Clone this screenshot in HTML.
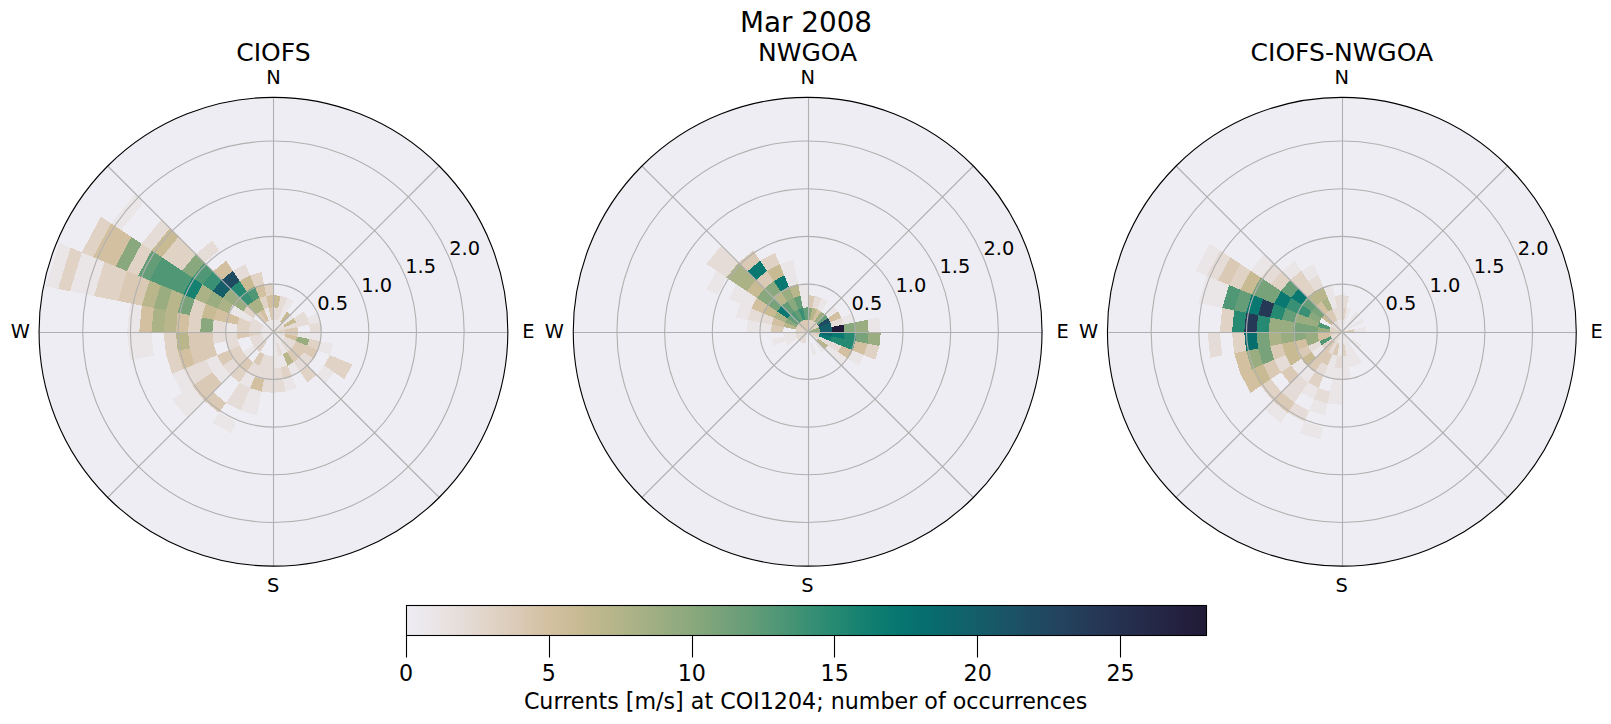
<!DOCTYPE html><html><head><meta charset="utf-8"><title>Mar 2008</title>
<style>html,body{margin:0;padding:0;background:#fff}svg{display:block}text{font-family:"DejaVu Sans","Liberation Sans",sans-serif;fill:#000}</style></head><body>
<svg width="1611" height="724" viewBox="0 0 1611 724">
<rect width="1611" height="724" fill="#fff"/>
<defs><linearGradient id="cb" x1="0" x2="1" y1="0" y2="0">
<stop offset="0.000%" stop-color="#eeedf3"/>
<stop offset="3.571%" stop-color="#eae5e7"/>
<stop offset="7.143%" stop-color="#e5dcd7"/>
<stop offset="10.714%" stop-color="#e0d3c6"/>
<stop offset="14.286%" stop-color="#dac9b4"/>
<stop offset="17.857%" stop-color="#d3c0a0"/>
<stop offset="21.429%" stop-color="#c8bb94"/>
<stop offset="25.000%" stop-color="#bab68c"/>
<stop offset="28.571%" stop-color="#aab286"/>
<stop offset="32.143%" stop-color="#9aad81"/>
<stop offset="35.714%" stop-color="#8aa87d"/>
<stop offset="39.286%" stop-color="#78a27a"/>
<stop offset="42.857%" stop-color="#659d78"/>
<stop offset="46.429%" stop-color="#509776"/>
<stop offset="50.000%" stop-color="#3a9074"/>
<stop offset="53.571%" stop-color="#268972"/>
<stop offset="57.143%" stop-color="#148171"/>
<stop offset="60.714%" stop-color="#087870"/>
<stop offset="64.286%" stop-color="#066f6e"/>
<stop offset="67.857%" stop-color="#0c666c"/>
<stop offset="71.429%" stop-color="#145d69"/>
<stop offset="75.000%" stop-color="#1a5466"/>
<stop offset="78.571%" stop-color="#1f4b62"/>
<stop offset="82.143%" stop-color="#23425d"/>
<stop offset="85.714%" stop-color="#253957"/>
<stop offset="89.286%" stop-color="#263150"/>
<stop offset="92.857%" stop-color="#252948"/>
<stop offset="96.429%" stop-color="#23213f"/>
<stop offset="100.000%" stop-color="#211a36"/>
</linearGradient></defs>
<text x="806" y="32.3" font-size="27.8" text-anchor="middle">Mar 2008</text>
<g>
<text x="273.45" y="61.2" font-size="25" text-anchor="middle">CIOFS</text>
<circle cx="273.45" cy="331.75" r="234.4" fill="#eeedf3"/>
<g shape-rendering="crispEdges">
<polygon points="273.4,331.8 273.4,331.8 275.8,319.8 273.4,319.6" fill="#eae5e7"/>
<polygon points="273.4,319.6 275.8,319.8 278.2,307.8 273.4,307.4" fill="#e5dcd7"/>
<polygon points="273.4,307.4 278.2,307.8 280.6,295.9 273.4,295.1" fill="#c8bb94"/>
<polygon points="273.4,331.8 273.4,331.8 278.1,320.5 275.8,319.8" fill="#eae5e7"/>
<polygon points="275.8,319.8 278.1,320.5 282.8,309.2 278.2,307.8" fill="#e5dcd7"/>
<polygon points="278.2,307.8 282.8,309.2 287.5,297.9 280.6,295.9" fill="#e5dcd7"/>
<polygon points="273.4,331.8 273.4,331.8 280.2,321.6 278.1,320.5" fill="#eae5e7"/>
<polygon points="278.1,320.5 280.2,321.6 287.0,311.5 282.8,309.2" fill="#eae5e7"/>
<polygon points="282.8,309.2 287.0,311.5 293.8,301.3 287.5,297.9" fill="#eae5e7"/>
<polygon points="273.4,331.8 273.4,331.8 282.1,323.1 280.2,321.6" fill="#eae5e7"/>
<polygon points="280.2,321.6 282.1,323.1 290.7,314.5 287.0,311.5" fill="#c8bb94"/>
<polygon points="273.4,331.8 273.4,331.8 283.6,325.0 282.1,323.1" fill="#eae5e7"/>
<polygon points="282.1,323.1 283.6,325.0 293.7,318.2 290.7,314.5" fill="#eae5e7"/>
<polygon points="273.4,331.8 273.4,331.8 284.7,327.1 283.6,325.0" fill="#e5dcd7"/>
<polygon points="283.6,325.0 284.7,327.1 296.0,322.4 293.7,318.2" fill="#c8bb94"/>
<polygon points="293.7,318.2 296.0,322.4 307.3,317.7 303.9,311.4" fill="#e5dcd7"/>
<polygon points="273.4,331.8 273.4,331.8 285.4,329.4 284.7,327.1" fill="#e5dcd7"/>
<polygon points="284.7,327.1 285.4,329.4 297.4,327.0 296.0,322.4" fill="#e5dcd7"/>
<polygon points="296.0,322.4 297.4,327.0 309.3,324.6 307.3,317.7" fill="#e5dcd7"/>
<polygon points="307.3,317.7 309.3,324.6 321.3,322.2 318.5,313.1" fill="#eae5e7"/>
<polygon points="273.4,331.8 273.4,331.8 285.6,331.8 285.4,329.4" fill="#e0d3c6"/>
<polygon points="285.4,329.4 285.6,331.8 297.8,331.8 297.4,327.0" fill="#dac9b4"/>
<polygon points="309.3,324.6 310.0,331.8 322.2,331.8 321.3,322.2" fill="#e5dcd7"/>
<polygon points="273.4,331.8 273.4,331.8 285.4,334.1 285.6,331.8" fill="#e5dcd7"/>
<polygon points="285.6,331.8 285.4,334.1 297.4,336.5 297.8,331.8" fill="#dac9b4"/>
<polygon points="297.8,331.8 297.4,336.5 309.3,338.9 310.0,331.8" fill="#eae5e7"/>
<polygon points="310.0,331.8 309.3,338.9 321.3,341.3 322.2,331.8" fill="#eae5e7"/>
<polygon points="273.4,331.8 273.4,331.8 284.7,336.4 285.4,334.1" fill="#e5dcd7"/>
<polygon points="285.4,334.1 284.7,336.4 296.0,341.1 297.4,336.5" fill="#d3c0a0"/>
<polygon points="297.4,336.5 296.0,341.1 307.3,345.8 309.3,338.9" fill="#9aad81"/>
<polygon points="309.3,338.9 307.3,345.8 318.5,350.4 321.3,341.3" fill="#e0d3c6"/>
<polygon points="321.3,341.3 318.5,350.4 329.8,355.1 333.3,343.7" fill="#eae5e7"/>
<polygon points="273.4,331.8 273.4,331.8 283.6,338.5 284.7,336.4" fill="#eae5e7"/>
<polygon points="284.7,336.4 283.6,338.5 293.7,345.3 296.0,341.1" fill="#e5dcd7"/>
<polygon points="296.0,341.1 293.7,345.3 303.9,352.1 307.3,345.8" fill="#dac9b4"/>
<polygon points="307.3,345.8 303.9,352.1 314.0,358.9 318.5,350.4" fill="#dac9b4"/>
<polygon points="329.8,355.1 324.2,365.6 334.3,372.4 341.1,359.8" fill="#e0d3c6"/>
<polygon points="341.1,359.8 334.3,372.4 344.5,379.2 352.3,364.4" fill="#e0d3c6"/>
<polygon points="273.4,331.8 273.4,331.8 282.1,340.4 283.6,338.5" fill="#eae5e7"/>
<polygon points="283.6,338.5 282.1,340.4 290.7,349.0 293.7,345.3" fill="#e5dcd7"/>
<polygon points="293.7,345.3 290.7,349.0 299.3,357.6 303.9,352.1" fill="#dac9b4"/>
<polygon points="303.9,352.1 299.3,357.6 308.0,366.3 314.0,358.9" fill="#e5dcd7"/>
<polygon points="324.2,365.6 316.6,374.9 325.2,383.5 334.3,372.4" fill="#eae5e7"/>
<polygon points="273.4,331.8 273.4,331.8 280.2,341.9 282.1,340.4" fill="#eae5e7"/>
<polygon points="282.1,340.4 280.2,341.9 287.0,352.0 290.7,349.0" fill="#e5dcd7"/>
<polygon points="290.7,349.0 287.0,352.0 293.8,362.2 299.3,357.6" fill="#dac9b4"/>
<polygon points="299.3,357.6 293.8,362.2 300.6,372.3 308.0,366.3" fill="#e5dcd7"/>
<polygon points="308.0,366.3 300.6,372.3 307.3,382.5 316.6,374.9" fill="#e0d3c6"/>
<polygon points="273.4,331.8 273.4,331.8 278.1,343.0 280.2,341.9" fill="#eae5e7"/>
<polygon points="280.2,341.9 278.1,343.0 282.8,354.3 287.0,352.0" fill="#eae5e7"/>
<polygon points="287.0,352.0 282.8,354.3 287.5,365.6 293.8,362.2" fill="#bab68c"/>
<polygon points="293.8,362.2 287.5,365.6 292.1,376.8 300.6,372.3" fill="#eae5e7"/>
<polygon points="273.4,331.8 273.4,331.8 275.8,343.7 278.1,343.0" fill="#eae5e7"/>
<polygon points="278.1,343.0 275.8,343.7 278.2,355.7 282.8,354.3" fill="#e5dcd7"/>
<polygon points="282.8,354.3 278.2,355.7 280.6,367.6 287.5,365.6" fill="#eae5e7"/>
<polygon points="287.5,365.6 280.6,367.6 283.0,379.6 292.1,376.8" fill="#e0d3c6"/>
<polygon points="292.1,376.8 283.0,379.6 285.4,391.6 296.8,388.1" fill="#eae5e7"/>
<polygon points="273.4,331.8 273.4,331.8 273.4,343.9 275.8,343.7" fill="#eae5e7"/>
<polygon points="275.8,343.7 273.4,343.9 273.4,356.1 278.2,355.7" fill="#eae5e7"/>
<polygon points="278.2,355.7 273.4,356.1 273.4,368.4 280.6,367.6" fill="#eae5e7"/>
<polygon points="280.6,367.6 273.4,368.4 273.4,380.6 283.0,379.6" fill="#e5dcd7"/>
<polygon points="283.0,379.6 273.4,380.6 273.4,392.8 285.4,391.6" fill="#e5dcd7"/>
<polygon points="273.4,356.1 268.7,355.7 266.3,367.6 273.4,368.4" fill="#e5dcd7"/>
<polygon points="273.4,368.4 266.3,367.6 263.9,379.6 273.4,380.6" fill="#e5dcd7"/>
<polygon points="273.4,380.6 263.9,379.6 261.5,391.6 273.4,392.8" fill="#e5dcd7"/>
<polygon points="268.7,355.7 264.1,354.3 259.4,365.6 266.3,367.6" fill="#e5dcd7"/>
<polygon points="266.3,367.6 259.4,365.6 254.8,376.8 263.9,379.6" fill="#e5dcd7"/>
<polygon points="263.9,379.6 254.8,376.8 250.1,388.1 261.5,391.6" fill="#d3c0a0"/>
<polygon points="261.5,391.6 250.1,388.1 245.4,399.4 259.2,403.5" fill="#eae5e7"/>
<polygon points="259.2,403.5 245.4,399.4 240.8,410.6 256.8,415.5" fill="#eae5e7"/>
<polygon points="264.1,354.3 259.9,352.0 253.1,362.2 259.4,365.6" fill="#dac9b4"/>
<polygon points="259.4,365.6 253.1,362.2 246.3,372.3 254.8,376.8" fill="#e5dcd7"/>
<polygon points="254.8,376.8 246.3,372.3 239.6,382.5 250.1,388.1" fill="#eae5e7"/>
<polygon points="250.1,388.1 239.6,382.5 232.8,392.6 245.4,399.4" fill="#e5dcd7"/>
<polygon points="245.4,399.4 232.8,392.6 226.0,402.8 240.8,410.6" fill="#e5dcd7"/>
<polygon points="236.1,421.9 219.2,412.9 212.4,423.0 231.4,433.2" fill="#eae5e7"/>
<polygon points="273.4,331.8 273.4,331.8 264.8,340.4 266.7,341.9" fill="#eae5e7"/>
<polygon points="266.7,341.9 264.8,340.4 256.2,349.0 259.9,352.0" fill="#e0d3c6"/>
<polygon points="253.1,362.2 247.6,357.6 238.9,366.3 246.3,372.3" fill="#dac9b4"/>
<polygon points="246.3,372.3 238.9,366.3 230.3,374.9 239.6,382.5" fill="#e0d3c6"/>
<polygon points="226.0,402.8 213.1,392.1 204.4,400.8 219.2,412.9" fill="#dac9b4"/>
<polygon points="273.4,331.8 273.4,331.8 263.3,338.5 264.8,340.4" fill="#eae5e7"/>
<polygon points="264.8,340.4 263.3,338.5 253.2,345.3 256.2,349.0" fill="#e5dcd7"/>
<polygon points="256.2,349.0 253.2,345.3 243.0,352.1 247.6,357.6" fill="#eae5e7"/>
<polygon points="247.6,357.6 243.0,352.1 232.9,358.9 238.9,366.3" fill="#e0d3c6"/>
<polygon points="238.9,366.3 232.9,358.9 222.7,365.6 230.3,374.9" fill="#e5dcd7"/>
<polygon points="230.3,374.9 222.7,365.6 212.6,372.4 221.7,383.5" fill="#eae5e7"/>
<polygon points="221.7,383.5 212.6,372.4 202.4,379.2 213.1,392.1" fill="#dac9b4"/>
<polygon points="213.1,392.1 202.4,379.2 192.3,386.0 204.4,400.8" fill="#dac9b4"/>
<polygon points="204.4,400.8 192.3,386.0 182.2,392.8 195.8,409.4" fill="#eae5e7"/>
<polygon points="195.8,409.4 182.2,392.8 172.0,399.5 187.2,418.0" fill="#eae5e7"/>
<polygon points="273.4,331.8 273.4,331.8 262.2,336.4 263.3,338.5" fill="#eae5e7"/>
<polygon points="263.3,338.5 262.2,336.4 250.9,341.1 253.2,345.3" fill="#e5dcd7"/>
<polygon points="243.0,352.1 239.6,345.8 228.4,350.4 232.9,358.9" fill="#e0d3c6"/>
<polygon points="232.9,358.9 228.4,350.4 217.1,355.1 222.7,365.6" fill="#dac9b4"/>
<polygon points="222.7,365.6 217.1,355.1 205.8,359.8 212.6,372.4" fill="#eae5e7"/>
<polygon points="212.6,372.4 205.8,359.8 194.6,364.4 202.4,379.2" fill="#e5dcd7"/>
<polygon points="202.4,379.2 194.6,364.4 183.3,369.1 192.3,386.0" fill="#e5dcd7"/>
<polygon points="192.3,386.0 183.3,369.1 172.0,373.8 182.2,392.8" fill="#eae5e7"/>
<polygon points="273.4,331.8 273.4,331.8 261.5,334.1 262.2,336.4" fill="#eae5e7"/>
<polygon points="262.2,336.4 261.5,334.1 249.5,336.5 250.9,341.1" fill="#e5dcd7"/>
<polygon points="239.6,345.8 237.6,338.9 225.6,341.3 228.4,350.4" fill="#e5dcd7"/>
<polygon points="217.1,355.1 213.6,343.7 201.7,346.0 205.8,359.8" fill="#dac9b4"/>
<polygon points="205.8,359.8 201.7,346.0 189.7,348.4 194.6,364.4" fill="#dac9b4"/>
<polygon points="194.6,364.4 189.7,348.4 177.7,350.8 183.3,369.1" fill="#d3c0a0"/>
<polygon points="183.3,369.1 177.7,350.8 165.8,353.2 172.0,373.8" fill="#e0d3c6"/>
<polygon points="273.4,331.8 273.4,331.8 261.2,331.8 261.5,334.1" fill="#eae5e7"/>
<polygon points="261.5,334.1 261.2,331.8 249.0,331.8 249.5,336.5" fill="#e0d3c6"/>
<polygon points="249.5,336.5 249.0,331.8 236.8,331.8 237.6,338.9" fill="#dac9b4"/>
<polygon points="237.6,338.9 236.8,331.8 224.6,331.8 225.6,341.3" fill="#e5dcd7"/>
<polygon points="225.6,341.3 224.6,331.8 212.4,331.8 213.6,343.7" fill="#e5dcd7"/>
<polygon points="213.6,343.7 212.4,331.8 200.2,331.8 201.7,346.0" fill="#dac9b4"/>
<polygon points="201.7,346.0 200.2,331.8 188.1,331.8 189.7,348.4" fill="#dac9b4"/>
<polygon points="189.7,348.4 188.1,331.8 175.8,331.8 177.7,350.8" fill="#bab68c"/>
<polygon points="177.7,350.8 175.8,331.8 163.6,331.8 165.8,353.2" fill="#e0d3c6"/>
<polygon points="153.8,355.6 151.4,331.8 139.2,331.8 141.8,357.9" fill="#eae5e7"/>
<polygon points="141.8,357.9 139.2,331.8 127.1,331.8 129.9,360.3" fill="#eae5e7"/>
<polygon points="273.4,331.8 273.4,331.8 261.5,329.4 261.2,331.8" fill="#eae5e7"/>
<polygon points="261.2,331.8 261.5,329.4 249.5,327.0 249.0,331.8" fill="#e5dcd7"/>
<polygon points="249.0,331.8 249.5,327.0 237.6,324.6 236.8,331.8" fill="#e0d3c6"/>
<polygon points="236.8,331.8 237.6,324.6 225.6,322.2 224.6,331.8" fill="#eae5e7"/>
<polygon points="224.6,331.8 225.6,322.2 213.6,319.8 212.4,331.8" fill="#e5dcd7"/>
<polygon points="212.4,331.8 213.6,319.8 201.7,317.5 200.2,331.8" fill="#8aa87d"/>
<polygon points="200.2,331.8 201.7,317.5 189.7,315.1 188.1,331.8" fill="#e0d3c6"/>
<polygon points="188.1,331.8 189.7,315.1 177.7,312.7 175.8,331.8" fill="#d3c0a0"/>
<polygon points="175.8,331.8 177.7,312.7 165.8,310.3 163.6,331.8" fill="#bab68c"/>
<polygon points="163.6,331.8 165.8,310.3 153.8,307.9 151.4,331.8" fill="#aab286"/>
<polygon points="151.4,331.8 153.8,307.9 141.8,305.6 139.2,331.8" fill="#d3c0a0"/>
<polygon points="139.2,331.8 141.8,305.6 129.9,303.2 127.1,331.8" fill="#eae5e7"/>
<polygon points="273.4,331.8 273.4,331.8 262.2,327.1 261.5,329.4" fill="#eae5e7"/>
<polygon points="261.5,329.4 262.2,327.1 250.9,322.4 249.5,327.0" fill="#e5dcd7"/>
<polygon points="249.5,327.0 250.9,322.4 239.6,317.7 237.6,324.6" fill="#e0d3c6"/>
<polygon points="237.6,324.6 239.6,317.7 228.4,313.1 225.6,322.2" fill="#d3c0a0"/>
<polygon points="225.6,322.2 228.4,313.1 217.1,308.4 213.6,319.8" fill="#d3c0a0"/>
<polygon points="213.6,319.8 217.1,308.4 205.8,303.7 201.7,317.5" fill="#c8bb94"/>
<polygon points="201.7,317.5 205.8,303.7 194.6,299.1 189.7,315.1" fill="#e0d3c6"/>
<polygon points="189.7,315.1 194.6,299.1 183.3,294.4 177.7,312.7" fill="#78a27a"/>
<polygon points="177.7,312.7 183.3,294.4 172.0,289.7 165.8,310.3" fill="#bab68c"/>
<polygon points="165.8,310.3 172.0,289.7 160.7,285.1 153.8,307.9" fill="#9aad81"/>
<polygon points="153.8,307.9 160.7,285.1 149.5,280.4 141.8,305.6" fill="#bab68c"/>
<polygon points="141.8,305.6 149.5,280.4 138.2,275.7 129.9,303.2" fill="#dac9b4"/>
<polygon points="129.9,303.2 138.2,275.7 126.9,271.1 117.9,300.8" fill="#dac9b4"/>
<polygon points="117.9,300.8 126.9,271.1 115.7,266.4 105.9,298.4" fill="#e0d3c6"/>
<polygon points="105.9,298.4 115.7,266.4 104.4,261.7 94.0,296.0" fill="#e0d3c6"/>
<polygon points="94.0,296.0 104.4,261.7 93.1,257.1 82.0,293.7" fill="#eae5e7"/>
<polygon points="82.0,293.7 93.1,257.1 81.8,252.4 70.0,291.3" fill="#eae5e7"/>
<polygon points="70.0,291.3 81.8,252.4 70.6,247.7 58.1,288.9" fill="#e0d3c6"/>
<polygon points="58.1,288.9 70.6,247.7 59.3,243.0 46.1,286.5" fill="#eae5e7"/>
<polygon points="273.4,331.8 273.4,331.8 263.3,325.0 262.2,327.1" fill="#eae5e7"/>
<polygon points="262.2,327.1 263.3,325.0 253.2,318.2 250.9,322.4" fill="#e5dcd7"/>
<polygon points="250.9,322.4 253.2,318.2 243.0,311.4 239.6,317.7" fill="#eae5e7"/>
<polygon points="239.6,317.7 243.0,311.4 232.9,304.6 228.4,313.1" fill="#eae5e7"/>
<polygon points="228.4,313.1 232.9,304.6 222.7,297.9 217.1,308.4" fill="#aab286"/>
<polygon points="217.1,308.4 222.7,297.9 212.6,291.1 205.8,303.7" fill="#9aad81"/>
<polygon points="205.8,303.7 212.6,291.1 202.4,284.3 194.6,299.1" fill="#aab286"/>
<polygon points="194.6,299.1 202.4,284.3 192.3,277.5 183.3,294.4" fill="#148171"/>
<polygon points="183.3,294.4 192.3,277.5 182.2,270.7 172.0,289.7" fill="#509776"/>
<polygon points="172.0,289.7 182.2,270.7 172.0,264.0 160.7,285.1" fill="#509776"/>
<polygon points="160.7,285.1 172.0,264.0 161.9,257.2 149.5,280.4" fill="#509776"/>
<polygon points="149.5,280.4 161.9,257.2 151.7,250.4 138.2,275.7" fill="#659d78"/>
<polygon points="138.2,275.7 151.7,250.4 141.6,243.6 126.9,271.1" fill="#e0d3c6"/>
<polygon points="126.9,271.1 141.6,243.6 131.4,236.9 115.7,266.4" fill="#8aa87d"/>
<polygon points="115.7,266.4 131.4,236.9 121.3,230.1 104.4,261.7" fill="#d3c0a0"/>
<polygon points="104.4,261.7 121.3,230.1 111.1,223.3 93.1,257.1" fill="#d3c0a0"/>
<polygon points="93.1,257.1 111.1,223.3 101.0,216.5 81.8,252.4" fill="#e0d3c6"/>
<polygon points="253.2,318.2 256.2,314.5 247.6,305.9 243.0,311.4" fill="#e0d3c6"/>
<polygon points="243.0,311.4 247.6,305.9 238.9,297.2 232.9,304.6" fill="#9aad81"/>
<polygon points="232.9,304.6 238.9,297.2 230.3,288.6 222.7,297.9" fill="#9aad81"/>
<polygon points="222.7,297.9 230.3,288.6 221.7,280.0 212.6,291.1" fill="#145d69"/>
<polygon points="212.6,291.1 221.7,280.0 213.1,271.4 202.4,284.3" fill="#3a9074"/>
<polygon points="202.4,284.3 213.1,271.4 204.4,262.7 192.3,277.5" fill="#509776"/>
<polygon points="192.3,277.5 204.4,262.7 195.8,254.1 182.2,270.7" fill="#8aa87d"/>
<polygon points="182.2,270.7 195.8,254.1 187.2,245.5 172.0,264.0" fill="#e0d3c6"/>
<polygon points="172.0,264.0 187.2,245.5 178.6,236.9 161.9,257.2" fill="#e0d3c6"/>
<polygon points="161.9,257.2 178.6,236.9 169.9,228.2 151.7,250.4" fill="#c8bb94"/>
<polygon points="151.7,250.4 169.9,228.2 161.3,219.6 141.6,243.6" fill="#e5dcd7"/>
<polygon points="121.3,230.1 144.0,202.3 135.4,193.7 111.1,223.3" fill="#eae5e7"/>
<polygon points="273.4,331.8 273.4,331.8 266.7,321.6 264.8,323.1" fill="#eae5e7"/>
<polygon points="264.8,323.1 266.7,321.6 259.9,311.5 256.2,314.5" fill="#dac9b4"/>
<polygon points="256.2,314.5 259.9,311.5 253.1,301.3 247.6,305.9" fill="#aab286"/>
<polygon points="247.6,305.9 253.1,301.3 246.3,291.2 238.9,297.2" fill="#3a9074"/>
<polygon points="238.9,297.2 246.3,291.2 239.6,281.0 230.3,288.6" fill="#268972"/>
<polygon points="230.3,288.6 239.6,281.0 232.8,270.9 221.7,280.0" fill="#1f4b62"/>
<polygon points="221.7,280.0 232.8,270.9 226.0,260.7 213.1,271.4" fill="#d3c0a0"/>
<polygon points="204.4,262.7 219.2,250.6 212.4,240.5 195.8,254.1" fill="#e5dcd7"/>
<polygon points="273.4,331.8 273.4,331.8 268.8,320.5 266.7,321.6" fill="#eae5e7"/>
<polygon points="266.7,321.6 268.8,320.5 264.1,309.2 259.9,311.5" fill="#d3c0a0"/>
<polygon points="259.9,311.5 264.1,309.2 259.4,297.9 253.1,301.3" fill="#aab286"/>
<polygon points="253.1,301.3 259.4,297.9 254.8,286.7 246.3,291.2" fill="#509776"/>
<polygon points="246.3,291.2 254.8,286.7 250.1,275.4 239.6,281.0" fill="#c8bb94"/>
<polygon points="239.6,281.0 250.1,275.4 245.4,264.1 232.8,270.9" fill="#e5dcd7"/>
<polygon points="273.4,331.8 273.4,331.8 271.1,319.8 268.8,320.5" fill="#eae5e7"/>
<polygon points="268.8,320.5 271.1,319.8 268.7,307.8 264.1,309.2" fill="#eae5e7"/>
<polygon points="264.1,309.2 268.7,307.8 266.3,295.9 259.4,297.9" fill="#e0d3c6"/>
<polygon points="259.4,297.9 266.3,295.9 263.9,283.9 254.8,286.7" fill="#d3c0a0"/>
<polygon points="254.8,286.7 263.9,283.9 261.5,271.9 250.1,275.4" fill="#e0d3c6"/>
<polygon points="273.4,331.8 273.4,331.8 273.4,319.6 271.1,319.8" fill="#eae5e7"/>
<polygon points="271.1,319.8 273.4,319.6 273.4,307.4 268.7,307.8" fill="#dac9b4"/>
<polygon points="268.7,307.8 273.4,307.4 273.4,295.1 266.3,295.9" fill="#d3c0a0"/>
<polygon points="266.3,295.9 273.4,295.1 273.4,282.9 263.9,283.9" fill="#e0d3c6"/>
</g>
<g stroke="#b0b0b0" stroke-width="1.1" fill="none">
<line x1="273.5" y1="97.35" x2="273.5" y2="566.15"/>
<line x1="39.05" y1="332.5" x2="507.85" y2="332.5"/>
<line x1="273.45" y1="331.75" x2="439.20" y2="166.00"/>
<line x1="273.45" y1="331.75" x2="439.20" y2="497.50"/>
<line x1="273.45" y1="331.75" x2="107.70" y2="497.50"/>
<line x1="273.45" y1="331.75" x2="107.70" y2="166.00"/>
<circle cx="273.45" cy="331.75" r="47.67"/>
<circle cx="273.45" cy="331.75" r="95.35"/>
<circle cx="273.45" cy="331.75" r="143.02"/>
<circle cx="273.45" cy="331.75" r="190.70"/>
</g>
<circle cx="273.45" cy="331.75" r="234.4" fill="none" stroke="#000" stroke-width="1.1"/>
<g font-size="19.4" text-anchor="middle">
<text x="273.45" y="84.2">N</text>
<text x="273.25" y="592.1">S</text>
<text x="528.35" y="338.0">E</text>
<text x="20.25" y="338.0">W</text>
<text x="332.6" y="309.9">0.5</text>
<text x="376.6" y="291.7">1.0</text>
<text x="420.7" y="273.4">1.5</text>
<text x="464.7" y="255.2">2.0</text>
</g>
</g>
<g>
<text x="807.65" y="61.2" font-size="25" text-anchor="middle">NWGOA</text>
<circle cx="807.65" cy="331.75" r="234.4" fill="#eeedf3"/>
<g shape-rendering="crispEdges">
<polygon points="807.6,331.8 807.6,331.8 810.0,319.8 807.6,319.6" fill="#e0d3c6"/>
<polygon points="807.6,319.6 810.0,319.8 812.4,307.8 807.6,307.4" fill="#8aa87d"/>
<polygon points="807.6,307.4 812.4,307.8 814.8,295.9 807.6,295.1" fill="#dac9b4"/>
<polygon points="807.6,331.8 807.6,331.8 812.3,320.5 810.0,319.8" fill="#e0d3c6"/>
<polygon points="810.0,319.8 812.3,320.5 817.0,309.2 812.4,307.8" fill="#bab68c"/>
<polygon points="812.4,307.8 817.0,309.2 821.7,297.9 814.8,295.9" fill="#e5dcd7"/>
<polygon points="807.6,331.8 807.6,331.8 814.4,321.6 812.3,320.5" fill="#e0d3c6"/>
<polygon points="812.3,320.5 814.4,321.6 821.2,311.5 817.0,309.2" fill="#d3c0a0"/>
<polygon points="817.0,309.2 821.2,311.5 828.0,301.3 821.7,297.9" fill="#eae5e7"/>
<polygon points="807.6,331.8 807.6,331.8 816.3,323.1 814.4,321.6" fill="#e0d3c6"/>
<polygon points="814.4,321.6 816.3,323.1 824.9,314.5 821.2,311.5" fill="#9aad81"/>
<polygon points="807.6,331.8 807.6,331.8 817.8,325.0 816.3,323.1" fill="#e0d3c6"/>
<polygon points="816.3,323.1 817.8,325.0 827.9,318.2 824.9,314.5" fill="#659d78"/>
<polygon points="824.9,314.5 827.9,318.2 838.1,311.4 833.5,305.9" fill="#eae5e7"/>
<polygon points="807.6,331.8 807.6,331.8 818.9,327.1 817.8,325.0" fill="#e0d3c6"/>
<polygon points="817.8,325.0 818.9,327.1 830.2,322.4 827.9,318.2" fill="#1f4b62"/>
<polygon points="827.9,318.2 830.2,322.4 841.5,317.7 838.1,311.4" fill="#d3c0a0"/>
<polygon points="807.6,331.8 807.6,331.8 819.6,329.4 818.9,327.1" fill="#9aad81"/>
<polygon points="818.9,327.1 819.6,329.4 831.6,327.0 830.2,322.4" fill="#145d69"/>
<polygon points="830.2,322.4 831.6,327.0 843.5,324.6 841.5,317.7" fill="#e5dcd7"/>
<polygon points="841.5,317.7 843.5,324.6 855.5,322.2 852.7,313.1" fill="#eae5e7"/>
<polygon points="807.6,331.8 807.6,331.8 819.9,331.8 819.6,329.4" fill="#9aad81"/>
<polygon points="819.6,329.4 819.9,331.8 832.0,331.8 831.6,327.0" fill="#145d69"/>
<polygon points="831.6,327.0 832.0,331.8 844.2,331.8 843.5,324.6" fill="#211a36"/>
<polygon points="843.5,324.6 844.2,331.8 856.4,331.8 855.5,322.2" fill="#8aa87d"/>
<polygon points="855.5,322.2 856.4,331.8 868.6,331.8 867.5,319.8" fill="#9aad81"/>
<polygon points="867.5,319.8 868.6,331.8 880.8,331.8 879.4,317.5" fill="#eae5e7"/>
<polygon points="807.6,331.8 807.6,331.8 819.6,334.1 819.9,331.8" fill="#dac9b4"/>
<polygon points="819.9,331.8 819.6,334.1 831.6,336.5 832.0,331.8" fill="#0c666c"/>
<polygon points="832.0,331.8 831.6,336.5 843.5,338.9 844.2,331.8" fill="#087870"/>
<polygon points="844.2,331.8 843.5,338.9 855.5,341.3 856.4,331.8" fill="#268972"/>
<polygon points="856.4,331.8 855.5,341.3 867.5,343.7 868.6,331.8" fill="#78a27a"/>
<polygon points="868.6,331.8 867.5,343.7 879.4,346.0 880.8,331.8" fill="#9aad81"/>
<polygon points="807.6,331.8 807.6,331.8 818.9,336.4 819.6,334.1" fill="#e0d3c6"/>
<polygon points="819.6,334.1 818.9,336.4 830.2,341.1 831.6,336.5" fill="#087870"/>
<polygon points="831.6,336.5 830.2,341.1 841.5,345.8 843.5,338.9" fill="#268972"/>
<polygon points="843.5,338.9 841.5,345.8 852.7,350.4 855.5,341.3" fill="#268972"/>
<polygon points="855.5,341.3 852.7,350.4 864.0,355.1 867.5,343.7" fill="#d3c0a0"/>
<polygon points="867.5,343.7 864.0,355.1 875.3,359.8 879.4,346.0" fill="#e0d3c6"/>
<polygon points="807.6,331.8 807.6,331.8 817.8,338.5 818.9,336.4" fill="#e0d3c6"/>
<polygon points="818.9,336.4 817.8,338.5 827.9,345.3 830.2,341.1" fill="#e5dcd7"/>
<polygon points="830.2,341.1 827.9,345.3 838.1,352.1 841.5,345.8" fill="#e5dcd7"/>
<polygon points="841.5,345.8 838.1,352.1 848.2,358.9 852.7,350.4" fill="#d3c0a0"/>
<polygon points="852.7,350.4 848.2,358.9 858.4,365.6 864.0,355.1" fill="#eae5e7"/>
<polygon points="807.6,331.8 807.6,331.8 816.3,340.4 817.8,338.5" fill="#eae5e7"/>
<polygon points="817.8,338.5 816.3,340.4 824.9,349.0 827.9,345.3" fill="#bab68c"/>
<polygon points="827.9,345.3 824.9,349.0 833.5,357.6 838.1,352.1" fill="#eae5e7"/>
<polygon points="838.1,352.1 833.5,357.6 842.2,366.3 848.2,358.9" fill="#eae5e7"/>
<polygon points="816.3,340.4 814.4,341.9 821.2,352.0 824.9,349.0" fill="#eae5e7"/>
<polygon points="812.3,343.0 810.0,343.7 812.4,355.7 817.0,354.3" fill="#eae5e7"/>
<polygon points="807.6,331.8 807.6,331.8 796.4,336.4 797.5,338.5" fill="#e5dcd7"/>
<polygon points="797.5,338.5 796.4,336.4 785.1,341.1 787.4,345.3" fill="#eae5e7"/>
<polygon points="807.6,331.8 807.6,331.8 795.7,334.1 796.4,336.4" fill="#e5dcd7"/>
<polygon points="796.4,336.4 795.7,334.1 783.7,336.5 785.1,341.1" fill="#eae5e7"/>
<polygon points="785.1,341.1 783.7,336.5 771.8,338.9 773.8,345.8" fill="#eae5e7"/>
<polygon points="807.6,331.8 807.6,331.8 795.4,331.8 795.7,334.1" fill="#e0d3c6"/>
<polygon points="795.7,334.1 795.4,331.8 783.2,331.8 783.7,336.5" fill="#eae5e7"/>
<polygon points="807.6,331.8 807.6,331.8 795.7,329.4 795.4,331.8" fill="#e0d3c6"/>
<polygon points="783.2,331.8 783.7,327.0 771.8,324.6 771.0,331.8" fill="#dac9b4"/>
<polygon points="771.0,331.8 771.8,324.6 759.8,322.2 758.9,331.8" fill="#eae5e7"/>
<polygon points="758.9,331.8 759.8,322.2 747.8,319.8 746.6,331.8" fill="#eae5e7"/>
<polygon points="807.6,331.8 807.6,331.8 796.4,327.1 795.7,329.4" fill="#e0d3c6"/>
<polygon points="795.7,329.4 796.4,327.1 785.1,322.4 783.7,327.0" fill="#bab68c"/>
<polygon points="783.7,327.0 785.1,322.4 773.8,317.7 771.8,324.6" fill="#d3c0a0"/>
<polygon points="771.8,324.6 773.8,317.7 762.6,313.1 759.8,322.2" fill="#e5dcd7"/>
<polygon points="759.8,322.2 762.6,313.1 751.3,308.4 747.8,319.8" fill="#e5dcd7"/>
<polygon points="747.8,319.8 751.3,308.4 740.0,303.7 735.9,317.5" fill="#eae5e7"/>
<polygon points="807.6,331.8 807.6,331.8 797.5,325.0 796.4,327.1" fill="#e0d3c6"/>
<polygon points="796.4,327.1 797.5,325.0 787.4,318.2 785.1,322.4" fill="#8aa87d"/>
<polygon points="785.1,322.4 787.4,318.2 777.2,311.4 773.8,317.7" fill="#aab286"/>
<polygon points="773.8,317.7 777.2,311.4 767.1,304.6 762.6,313.1" fill="#c8bb94"/>
<polygon points="762.6,313.1 767.1,304.6 756.9,297.9 751.3,308.4" fill="#d3c0a0"/>
<polygon points="751.3,308.4 756.9,297.9 746.8,291.1 740.0,303.7" fill="#eae5e7"/>
<polygon points="740.0,303.7 746.8,291.1 736.6,284.3 728.8,299.1" fill="#eae5e7"/>
<polygon points="717.5,294.4 726.5,277.5 716.4,270.7 706.2,289.7" fill="#eae5e7"/>
<polygon points="807.6,331.8 807.6,331.8 799.0,323.1 797.5,325.0" fill="#dac9b4"/>
<polygon points="797.5,325.0 799.0,323.1 790.4,314.5 787.4,318.2" fill="#659d78"/>
<polygon points="787.4,318.2 790.4,314.5 781.8,305.9 777.2,311.4" fill="#087870"/>
<polygon points="777.2,311.4 781.8,305.9 773.1,297.2 767.1,304.6" fill="#78a27a"/>
<polygon points="767.1,304.6 773.1,297.2 764.5,288.6 756.9,297.9" fill="#8aa87d"/>
<polygon points="756.9,297.9 764.5,288.6 755.9,280.0 746.8,291.1" fill="#c8bb94"/>
<polygon points="746.8,291.1 755.9,280.0 747.3,271.4 736.6,284.3" fill="#aab286"/>
<polygon points="736.6,284.3 747.3,271.4 738.6,262.7 726.5,277.5" fill="#aab286"/>
<polygon points="726.5,277.5 738.6,262.7 730.0,254.1 716.4,270.7" fill="#e5dcd7"/>
<polygon points="716.4,270.7 730.0,254.1 721.4,245.5 706.2,264.0" fill="#e5dcd7"/>
<polygon points="807.6,331.8 807.6,331.8 800.9,321.6 799.0,323.1" fill="#dac9b4"/>
<polygon points="799.0,323.1 800.9,321.6 794.1,311.5 790.4,314.5" fill="#509776"/>
<polygon points="790.4,314.5 794.1,311.5 787.3,301.3 781.8,305.9" fill="#659d78"/>
<polygon points="781.8,305.9 787.3,301.3 780.5,291.2 773.1,297.2" fill="#bab68c"/>
<polygon points="773.1,297.2 780.5,291.2 773.8,281.0 764.5,288.6" fill="#8aa87d"/>
<polygon points="764.5,288.6 773.8,281.0 767.0,270.9 755.9,280.0" fill="#dac9b4"/>
<polygon points="755.9,280.0 767.0,270.9 760.2,260.7 747.3,271.4" fill="#087870"/>
<polygon points="747.3,271.4 760.2,260.7 753.4,250.6 738.6,262.7" fill="#dac9b4"/>
<polygon points="807.6,331.8 807.6,331.8 803.0,320.5 800.9,321.6" fill="#dac9b4"/>
<polygon points="800.9,321.6 803.0,320.5 798.3,309.2 794.1,311.5" fill="#659d78"/>
<polygon points="794.1,311.5 798.3,309.2 793.6,297.9 787.3,301.3" fill="#8aa87d"/>
<polygon points="787.3,301.3 793.6,297.9 789.0,286.7 780.5,291.2" fill="#9aad81"/>
<polygon points="780.5,291.2 789.0,286.7 784.3,275.4 773.8,281.0" fill="#087870"/>
<polygon points="773.8,281.0 784.3,275.4 779.6,264.1 767.0,270.9" fill="#c8bb94"/>
<polygon points="767.0,270.9 779.6,264.1 775.0,252.9 760.2,260.7" fill="#e0d3c6"/>
<polygon points="807.6,331.8 807.6,331.8 805.3,319.8 803.0,320.5" fill="#dac9b4"/>
<polygon points="803.0,320.5 805.3,319.8 802.9,307.8 798.3,309.2" fill="#3a9074"/>
<polygon points="798.3,309.2 802.9,307.8 800.5,295.9 793.6,297.9" fill="#659d78"/>
<polygon points="793.6,297.9 800.5,295.9 798.1,283.9 789.0,286.7" fill="#bab68c"/>
<polygon points="789.0,286.7 798.1,283.9 795.7,271.9 784.3,275.4" fill="#eae5e7"/>
<polygon points="784.3,275.4 795.7,271.9 793.4,260.0 779.6,264.1" fill="#eae5e7"/>
<polygon points="807.6,331.8 807.6,331.8 807.6,319.6 805.3,319.8" fill="#dac9b4"/>
<polygon points="805.3,319.8 807.6,319.6 807.6,307.4 802.9,307.8" fill="#659d78"/>
<polygon points="802.9,307.8 807.6,307.4 807.6,295.1 800.5,295.9" fill="#eae5e7"/>
<polygon points="800.5,295.9 807.6,295.1 807.6,282.9 798.1,283.9" fill="#eae5e7"/>
<polygon points="807.6,331.8 807.6,331.8 803.0,343.0 805.3,343.7" fill="#e5dcd7"/>
<polygon points="807.6,331.8 807.6,331.8 800.9,341.9 803.0,343.0" fill="#e5dcd7"/>
<polygon points="807.6,331.8 807.6,331.8 799.0,340.4 800.9,341.9" fill="#e5dcd7"/>
<polygon points="807.6,331.8 807.6,331.8 797.5,338.5 799.0,340.4" fill="#e5dcd7"/>
</g>
<g stroke="#b0b0b0" stroke-width="1.1" fill="none">
<line x1="808.5" y1="97.35" x2="808.5" y2="566.15"/>
<line x1="573.25" y1="332.5" x2="1042.05" y2="332.5"/>
<line x1="807.65" y1="331.75" x2="973.40" y2="166.00"/>
<line x1="807.65" y1="331.75" x2="973.40" y2="497.50"/>
<line x1="807.65" y1="331.75" x2="641.90" y2="497.50"/>
<line x1="807.65" y1="331.75" x2="641.90" y2="166.00"/>
<circle cx="807.65" cy="331.75" r="47.67"/>
<circle cx="807.65" cy="331.75" r="95.35"/>
<circle cx="807.65" cy="331.75" r="143.02"/>
<circle cx="807.65" cy="331.75" r="190.70"/>
</g>
<circle cx="807.65" cy="331.75" r="234.4" fill="none" stroke="#000" stroke-width="1.1"/>
<g font-size="19.4" text-anchor="middle">
<text x="807.65" y="84.2">N</text>
<text x="807.4499999999999" y="592.1">S</text>
<text x="1062.55" y="338.0">E</text>
<text x="554.45" y="338.0">W</text>
<text x="866.8" y="309.9">0.5</text>
<text x="910.8" y="291.7">1.0</text>
<text x="954.9" y="273.4">1.5</text>
<text x="998.9" y="255.2">2.0</text>
</g>
</g>
<g>
<text x="1341.85" y="61.2" font-size="25" text-anchor="middle">CIOFS-NWGOA</text>
<circle cx="1341.85" cy="331.75" r="234.4" fill="#eeedf3"/>
<g shape-rendering="crispEdges">
<polygon points="1341.8,331.8 1341.8,331.8 1344.2,319.8 1341.8,319.6" fill="#eae5e7"/>
<polygon points="1341.8,319.6 1344.2,319.8 1346.6,307.8 1341.8,307.4" fill="#e0d3c6"/>
<polygon points="1341.8,307.4 1346.6,307.8 1349.0,295.9 1341.8,295.1" fill="#e5dcd7"/>
<polygon points="1341.8,331.8 1341.8,331.8 1346.5,320.5 1344.2,319.8" fill="#eae5e7"/>
<polygon points="1344.2,319.8 1346.5,320.5 1351.2,309.2 1346.6,307.8" fill="#eae5e7"/>
<polygon points="1341.8,331.8 1341.8,331.8 1350.5,323.1 1348.6,321.6" fill="#eae5e7"/>
<polygon points="1348.6,321.6 1350.5,323.1 1359.1,314.5 1355.4,311.5" fill="#eae5e7"/>
<polygon points="1341.8,331.8 1341.8,331.8 1353.1,327.1 1352.0,325.0" fill="#eae5e7"/>
<polygon points="1352.0,325.0 1353.1,327.1 1364.4,322.4 1362.1,318.2" fill="#eae5e7"/>
<polygon points="1341.8,331.8 1341.8,331.8 1354.0,331.8 1353.8,329.4" fill="#dac9b4"/>
<polygon points="1353.8,329.4 1354.0,331.8 1366.2,331.8 1365.8,327.0" fill="#eae5e7"/>
<polygon points="1352.0,338.5 1350.5,340.4 1359.1,349.0 1362.1,345.3" fill="#eae5e7"/>
<polygon points="1341.8,331.8 1341.8,331.8 1346.5,343.0 1348.6,341.9" fill="#eae5e7"/>
<polygon points="1348.6,341.9 1346.5,343.0 1351.2,354.3 1355.4,352.0" fill="#eae5e7"/>
<polygon points="1355.4,352.0 1351.2,354.3 1355.9,365.6 1362.2,362.2" fill="#eae5e7"/>
<polygon points="1341.8,331.8 1341.8,331.8 1344.2,343.7 1346.5,343.0" fill="#eae5e7"/>
<polygon points="1346.5,343.0 1344.2,343.7 1346.6,355.7 1351.2,354.3" fill="#eae5e7"/>
<polygon points="1351.2,354.3 1346.6,355.7 1349.0,367.6 1355.9,365.6" fill="#eae5e7"/>
<polygon points="1341.8,331.8 1341.8,331.8 1341.8,343.9 1344.2,343.7" fill="#eae5e7"/>
<polygon points="1344.2,343.7 1341.8,343.9 1341.8,356.1 1346.6,355.7" fill="#e0d3c6"/>
<polygon points="1346.6,355.7 1341.8,356.1 1341.8,368.4 1349.0,367.6" fill="#eae5e7"/>
<polygon points="1349.0,367.6 1341.8,368.4 1341.8,380.6 1351.4,379.6" fill="#eae5e7"/>
<polygon points="1341.8,331.8 1341.8,331.8 1339.5,343.7 1341.8,343.9" fill="#eae5e7"/>
<polygon points="1341.8,343.9 1339.5,343.7 1337.1,355.7 1341.8,356.1" fill="#eae5e7"/>
<polygon points="1341.8,356.1 1337.1,355.7 1334.7,367.6 1341.8,368.4" fill="#e5dcd7"/>
<polygon points="1341.8,368.4 1334.7,367.6 1332.3,379.6 1341.8,380.6" fill="#eae5e7"/>
<polygon points="1341.8,380.6 1332.3,379.6 1329.9,391.6 1341.8,392.8" fill="#eae5e7"/>
<polygon points="1341.8,392.8 1329.9,391.6 1327.6,403.5 1341.8,404.9" fill="#eae5e7"/>
<polygon points="1341.8,331.8 1341.8,331.8 1337.2,343.0 1339.5,343.7" fill="#eae5e7"/>
<polygon points="1339.5,343.7 1337.2,343.0 1332.5,354.3 1337.1,355.7" fill="#dac9b4"/>
<polygon points="1337.1,355.7 1332.5,354.3 1327.8,365.6 1334.7,367.6" fill="#eae5e7"/>
<polygon points="1334.7,367.6 1327.8,365.6 1323.2,376.8 1332.3,379.6" fill="#eae5e7"/>
<polygon points="1329.9,391.6 1318.5,388.1 1313.8,399.4 1327.6,403.5" fill="#e5dcd7"/>
<polygon points="1327.6,403.5 1313.8,399.4 1309.2,410.6 1325.2,415.5" fill="#eae5e7"/>
<polygon points="1322.8,427.5 1304.5,421.9 1299.8,433.2 1320.4,439.4" fill="#eae5e7"/>
<polygon points="1341.8,331.8 1341.8,331.8 1335.1,341.9 1337.2,343.0" fill="#e5dcd7"/>
<polygon points="1337.2,343.0 1335.1,341.9 1328.3,352.0 1332.5,354.3" fill="#e5dcd7"/>
<polygon points="1332.5,354.3 1328.3,352.0 1321.5,362.2 1327.8,365.6" fill="#dac9b4"/>
<polygon points="1327.8,365.6 1321.5,362.2 1314.7,372.3 1323.2,376.8" fill="#e5dcd7"/>
<polygon points="1323.2,376.8 1314.7,372.3 1308.0,382.5 1318.5,388.1" fill="#e0d3c6"/>
<polygon points="1318.5,388.1 1308.0,382.5 1301.2,392.6 1313.8,399.4" fill="#eae5e7"/>
<polygon points="1309.2,410.6 1294.4,402.8 1287.6,412.9 1304.5,421.9" fill="#e5dcd7"/>
<polygon points="1341.8,331.8 1341.8,331.8 1333.2,340.4 1335.1,341.9" fill="#e5dcd7"/>
<polygon points="1335.1,341.9 1333.2,340.4 1324.6,349.0 1328.3,352.0" fill="#dac9b4"/>
<polygon points="1328.3,352.0 1324.6,349.0 1316.0,357.6 1321.5,362.2" fill="#dac9b4"/>
<polygon points="1321.5,362.2 1316.0,357.6 1307.3,366.3 1314.7,372.3" fill="#dac9b4"/>
<polygon points="1314.7,372.3 1307.3,366.3 1298.7,374.9 1308.0,382.5" fill="#eae5e7"/>
<polygon points="1308.0,382.5 1298.7,374.9 1290.1,383.5 1301.2,392.6" fill="#e5dcd7"/>
<polygon points="1301.2,392.6 1290.1,383.5 1281.5,392.1 1294.4,402.8" fill="#e5dcd7"/>
<polygon points="1294.4,402.8 1281.5,392.1 1272.8,400.8 1287.6,412.9" fill="#dac9b4"/>
<polygon points="1287.6,412.9 1272.8,400.8 1264.2,409.4 1280.8,423.0" fill="#eae5e7"/>
<polygon points="1341.8,331.8 1341.8,331.8 1331.7,338.5 1333.2,340.4" fill="#e5dcd7"/>
<polygon points="1333.2,340.4 1331.7,338.5 1321.6,345.3 1324.6,349.0" fill="#e0d3c6"/>
<polygon points="1324.6,349.0 1321.6,345.3 1311.4,352.1 1316.0,357.6" fill="#eae5e7"/>
<polygon points="1316.0,357.6 1311.4,352.1 1301.3,358.9 1307.3,366.3" fill="#c8bb94"/>
<polygon points="1307.3,366.3 1301.3,358.9 1291.1,365.6 1298.7,374.9" fill="#eae5e7"/>
<polygon points="1298.7,374.9 1291.1,365.6 1281.0,372.4 1290.1,383.5" fill="#dac9b4"/>
<polygon points="1281.5,392.1 1270.8,379.2 1260.7,386.0 1272.8,400.8" fill="#e0d3c6"/>
<polygon points="1341.8,331.8 1341.8,331.8 1330.6,336.4 1331.7,338.5" fill="#e5dcd7"/>
<polygon points="1331.7,338.5 1330.6,336.4 1319.3,341.1 1321.6,345.3" fill="#509776"/>
<polygon points="1321.6,345.3 1319.3,341.1 1308.0,345.8 1311.4,352.1" fill="#e5dcd7"/>
<polygon points="1311.4,352.1 1308.0,345.8 1296.8,350.4 1301.3,358.9" fill="#dac9b4"/>
<polygon points="1301.3,358.9 1296.8,350.4 1285.5,355.1 1291.1,365.6" fill="#c8bb94"/>
<polygon points="1291.1,365.6 1285.5,355.1 1274.2,359.8 1281.0,372.4" fill="#e5dcd7"/>
<polygon points="1281.0,372.4 1274.2,359.8 1263.0,364.4 1270.8,379.2" fill="#dac9b4"/>
<polygon points="1270.8,379.2 1263.0,364.4 1251.7,369.1 1260.7,386.0" fill="#c8bb94"/>
<polygon points="1260.7,386.0 1251.7,369.1 1240.4,373.8 1250.6,392.8" fill="#d3c0a0"/>
<polygon points="1341.8,331.8 1341.8,331.8 1329.9,334.1 1330.6,336.4" fill="#e0d3c6"/>
<polygon points="1330.6,336.4 1329.9,334.1 1317.9,336.5 1319.3,341.1" fill="#d3c0a0"/>
<polygon points="1319.3,341.1 1317.9,336.5 1306.0,338.9 1308.0,345.8" fill="#9aad81"/>
<polygon points="1308.0,345.8 1306.0,338.9 1294.0,341.3 1296.8,350.4" fill="#d3c0a0"/>
<polygon points="1296.8,350.4 1294.0,341.3 1282.0,343.7 1285.5,355.1" fill="#c8bb94"/>
<polygon points="1285.5,355.1 1282.0,343.7 1270.1,346.0 1274.2,359.8" fill="#dac9b4"/>
<polygon points="1274.2,359.8 1270.1,346.0 1258.1,348.4 1263.0,364.4" fill="#78a27a"/>
<polygon points="1263.0,364.4 1258.1,348.4 1246.1,350.8 1251.7,369.1" fill="#9aad81"/>
<polygon points="1251.7,369.1 1246.1,350.8 1234.2,353.2 1240.4,373.8" fill="#d3c0a0"/>
<polygon points="1341.8,331.8 1341.8,331.8 1329.6,331.8 1329.9,334.1" fill="#dac9b4"/>
<polygon points="1329.9,334.1 1329.6,331.8 1317.4,331.8 1317.9,336.5" fill="#d3c0a0"/>
<polygon points="1317.9,336.5 1317.4,331.8 1305.2,331.8 1306.0,338.9" fill="#9aad81"/>
<polygon points="1306.0,338.9 1305.2,331.8 1293.0,331.8 1294.0,341.3" fill="#8aa87d"/>
<polygon points="1294.0,341.3 1293.0,331.8 1280.8,331.8 1282.0,343.7" fill="#9aad81"/>
<polygon points="1282.0,343.7 1280.8,331.8 1268.6,331.8 1270.1,346.0" fill="#aab286"/>
<polygon points="1270.1,346.0 1268.6,331.8 1256.4,331.8 1258.1,348.4" fill="#78a27a"/>
<polygon points="1258.1,348.4 1256.4,331.8 1244.2,331.8 1246.1,350.8" fill="#066f6e"/>
<polygon points="1246.1,350.8 1244.2,331.8 1232.0,331.8 1234.2,353.2" fill="#e0d3c6"/>
<polygon points="1222.2,355.6 1219.8,331.8 1207.6,331.8 1210.2,357.9" fill="#e5dcd7"/>
<polygon points="1341.8,331.8 1341.8,331.8 1329.9,329.4 1329.6,331.8" fill="#e0d3c6"/>
<polygon points="1329.6,331.8 1329.9,329.4 1317.9,327.0 1317.4,331.8" fill="#9aad81"/>
<polygon points="1317.4,331.8 1317.9,327.0 1306.0,324.6 1305.2,331.8" fill="#78a27a"/>
<polygon points="1305.2,331.8 1306.0,324.6 1294.0,322.2 1293.0,331.8" fill="#78a27a"/>
<polygon points="1293.0,331.8 1294.0,322.2 1282.0,319.8 1280.8,331.8" fill="#9aad81"/>
<polygon points="1280.8,331.8 1282.0,319.8 1270.1,317.5 1268.6,331.8" fill="#9aad81"/>
<polygon points="1268.6,331.8 1270.1,317.5 1258.1,315.1 1256.4,331.8" fill="#268972"/>
<polygon points="1256.4,331.8 1258.1,315.1 1246.1,312.7 1244.2,331.8" fill="#253957"/>
<polygon points="1244.2,331.8 1246.1,312.7 1234.2,310.3 1232.0,331.8" fill="#268972"/>
<polygon points="1232.0,331.8 1234.2,310.3 1222.2,307.9 1219.8,331.8" fill="#e0d3c6"/>
<polygon points="1341.8,331.8 1341.8,331.8 1330.6,327.1 1329.9,329.4" fill="#e0d3c6"/>
<polygon points="1329.9,329.4 1330.6,327.1 1319.3,322.4 1317.9,327.0" fill="#509776"/>
<polygon points="1317.9,327.0 1319.3,322.4 1308.0,317.7 1306.0,324.6" fill="#9aad81"/>
<polygon points="1306.0,324.6 1308.0,317.7 1296.8,313.1 1294.0,322.2" fill="#9aad81"/>
<polygon points="1294.0,322.2 1296.8,313.1 1285.5,308.4 1282.0,319.8" fill="#659d78"/>
<polygon points="1282.0,319.8 1285.5,308.4 1274.2,303.7 1270.1,317.5" fill="#268972"/>
<polygon points="1270.1,317.5 1274.2,303.7 1263.0,299.1 1258.1,315.1" fill="#253957"/>
<polygon points="1258.1,315.1 1263.0,299.1 1251.7,294.4 1246.1,312.7" fill="#087870"/>
<polygon points="1246.1,312.7 1251.7,294.4 1240.4,289.7 1234.2,310.3" fill="#659d78"/>
<polygon points="1234.2,310.3 1240.4,289.7 1229.1,285.1 1222.2,307.9" fill="#509776"/>
<polygon points="1222.2,307.9 1229.1,285.1 1217.9,280.4 1210.2,305.6" fill="#eae5e7"/>
<polygon points="1210.2,305.6 1217.9,280.4 1206.6,275.7 1198.3,303.2" fill="#eae5e7"/>
<polygon points="1341.8,331.8 1341.8,331.8 1331.7,325.0 1330.6,327.1" fill="#e5dcd7"/>
<polygon points="1319.3,322.4 1321.6,318.2 1311.4,311.4 1308.0,317.7" fill="#8aa87d"/>
<polygon points="1308.0,317.7 1311.4,311.4 1301.3,304.6 1296.8,313.1" fill="#3a9074"/>
<polygon points="1296.8,313.1 1301.3,304.6 1291.1,297.9 1285.5,308.4" fill="#3a9074"/>
<polygon points="1285.5,308.4 1291.1,297.9 1281.0,291.1 1274.2,303.7" fill="#087870"/>
<polygon points="1274.2,303.7 1281.0,291.1 1270.8,284.3 1263.0,299.1" fill="#78a27a"/>
<polygon points="1263.0,299.1 1270.8,284.3 1260.7,277.5 1251.7,294.4" fill="#78a27a"/>
<polygon points="1251.7,294.4 1260.7,277.5 1250.6,270.7 1240.4,289.7" fill="#c8bb94"/>
<polygon points="1240.4,289.7 1250.6,270.7 1240.4,264.0 1229.1,285.1" fill="#e0d3c6"/>
<polygon points="1229.1,285.1 1240.4,264.0 1230.3,257.2 1217.9,280.4" fill="#dac9b4"/>
<polygon points="1217.9,280.4 1230.3,257.2 1220.1,250.4 1206.6,275.7" fill="#e5dcd7"/>
<polygon points="1206.6,275.7 1220.1,250.4 1210.0,243.6 1195.3,271.1" fill="#eae5e7"/>
<polygon points="1341.8,331.8 1341.8,331.8 1333.2,323.1 1331.7,325.0" fill="#e5dcd7"/>
<polygon points="1331.7,325.0 1333.2,323.1 1324.6,314.5 1321.6,318.2" fill="#c8bb94"/>
<polygon points="1321.6,318.2 1324.6,314.5 1316.0,305.9 1311.4,311.4" fill="#78a27a"/>
<polygon points="1311.4,311.4 1316.0,305.9 1307.3,297.2 1301.3,304.6" fill="#659d78"/>
<polygon points="1301.3,304.6 1307.3,297.2 1298.7,288.6 1291.1,297.9" fill="#087870"/>
<polygon points="1291.1,297.9 1298.7,288.6 1290.1,280.0 1281.0,291.1" fill="#659d78"/>
<polygon points="1281.0,291.1 1290.1,280.0 1281.5,271.4 1270.8,284.3" fill="#e0d3c6"/>
<polygon points="1270.8,284.3 1281.5,271.4 1272.8,262.7 1260.7,277.5" fill="#e5dcd7"/>
<polygon points="1260.7,277.5 1272.8,262.7 1264.2,254.1 1250.6,270.7" fill="#eae5e7"/>
<polygon points="1341.8,331.8 1341.8,331.8 1335.1,321.6 1333.2,323.1" fill="#e5dcd7"/>
<polygon points="1333.2,323.1 1335.1,321.6 1328.3,311.5 1324.6,314.5" fill="#dac9b4"/>
<polygon points="1324.6,314.5 1328.3,311.5 1321.5,301.3 1316.0,305.9" fill="#d3c0a0"/>
<polygon points="1316.0,305.9 1321.5,301.3 1314.7,291.2 1307.3,297.2" fill="#bab68c"/>
<polygon points="1307.3,297.2 1314.7,291.2 1308.0,281.0 1298.7,288.6" fill="#e0d3c6"/>
<polygon points="1298.7,288.6 1308.0,281.0 1301.2,270.9 1290.1,280.0" fill="#e0d3c6"/>
<polygon points="1290.1,280.0 1301.2,270.9 1294.4,260.7 1281.5,271.4" fill="#eae5e7"/>
<polygon points="1341.8,331.8 1341.8,331.8 1337.2,320.5 1335.1,321.6" fill="#e5dcd7"/>
<polygon points="1335.1,321.6 1337.2,320.5 1332.5,309.2 1328.3,311.5" fill="#dac9b4"/>
<polygon points="1328.3,311.5 1332.5,309.2 1327.8,297.9 1321.5,301.3" fill="#aab286"/>
<polygon points="1321.5,301.3 1327.8,297.9 1323.2,286.7 1314.7,291.2" fill="#bab68c"/>
<polygon points="1314.7,291.2 1323.2,286.7 1318.5,275.4 1308.0,281.0" fill="#e5dcd7"/>
<polygon points="1308.0,281.0 1318.5,275.4 1313.8,264.1 1301.2,270.9" fill="#eae5e7"/>
<polygon points="1341.8,331.8 1341.8,331.8 1339.5,319.8 1337.2,320.5" fill="#eae5e7"/>
<polygon points="1337.2,320.5 1339.5,319.8 1337.1,307.8 1332.5,309.2" fill="#e5dcd7"/>
<polygon points="1332.5,309.2 1337.1,307.8 1334.7,295.9 1327.8,297.9" fill="#eae5e7"/>
<polygon points="1327.8,297.9 1334.7,295.9 1332.3,283.9 1323.2,286.7" fill="#eae5e7"/>
<polygon points="1341.8,331.8 1341.8,331.8 1341.8,319.6 1339.5,319.8" fill="#eae5e7"/>
<polygon points="1339.5,319.8 1341.8,319.6 1341.8,307.4 1337.1,307.8" fill="#e5dcd7"/>
<polygon points="1337.1,307.8 1341.8,307.4 1341.8,295.1 1334.7,295.9" fill="#e5dcd7"/>
</g>
<g stroke="#b0b0b0" stroke-width="1.1" fill="none">
<line x1="1342.5" y1="97.35" x2="1342.5" y2="566.15"/>
<line x1="1107.45" y1="332.5" x2="1576.25" y2="332.5"/>
<line x1="1341.85" y1="331.75" x2="1507.60" y2="166.00"/>
<line x1="1341.85" y1="331.75" x2="1507.60" y2="497.50"/>
<line x1="1341.85" y1="331.75" x2="1176.10" y2="497.50"/>
<line x1="1341.85" y1="331.75" x2="1176.10" y2="166.00"/>
<circle cx="1341.85" cy="331.75" r="47.67"/>
<circle cx="1341.85" cy="331.75" r="95.35"/>
<circle cx="1341.85" cy="331.75" r="143.02"/>
<circle cx="1341.85" cy="331.75" r="190.70"/>
</g>
<circle cx="1341.85" cy="331.75" r="234.4" fill="none" stroke="#000" stroke-width="1.1"/>
<g font-size="19.4" text-anchor="middle">
<text x="1341.85" y="84.2">N</text>
<text x="1341.6499999999999" y="592.1">S</text>
<text x="1596.75" y="338.0">E</text>
<text x="1088.6499999999999" y="338.0">W</text>
<text x="1401.0" y="309.9">0.5</text>
<text x="1445.0" y="291.7">1.0</text>
<text x="1489.1" y="273.4">1.5</text>
<text x="1533.1" y="255.2">2.0</text>
</g>
</g>
<rect x="406.5" y="605.5" width="800.0" height="30.0" fill="url(#cb)" stroke="#000" stroke-width="1.1"/>
<g stroke="#000" stroke-width="1.1">
<line x1="406.50" y1="635.5" x2="406.50" y2="657.5"/>
<line x1="549.50" y1="635.5" x2="549.50" y2="657.5"/>
<line x1="692.50" y1="635.5" x2="692.50" y2="657.5"/>
<line x1="834.50" y1="635.5" x2="834.50" y2="657.5"/>
<line x1="977.50" y1="635.5" x2="977.50" y2="657.5"/>
<line x1="1120.50" y1="635.5" x2="1120.50" y2="657.5"/>
</g>
<g font-size="22.2" text-anchor="middle">
<text x="406.00" y="681">0</text>
<text x="548.91" y="681">5</text>
<text x="691.82" y="681">10</text>
<text x="834.73" y="681">15</text>
<text x="977.64" y="681">20</text>
<text x="1120.55" y="681">25</text>
</g>
<text x="805.6" y="709.1" font-size="22.2" text-anchor="middle">Currents [m/s] at COI1204; number of occurrences</text>
</svg></body></html>
